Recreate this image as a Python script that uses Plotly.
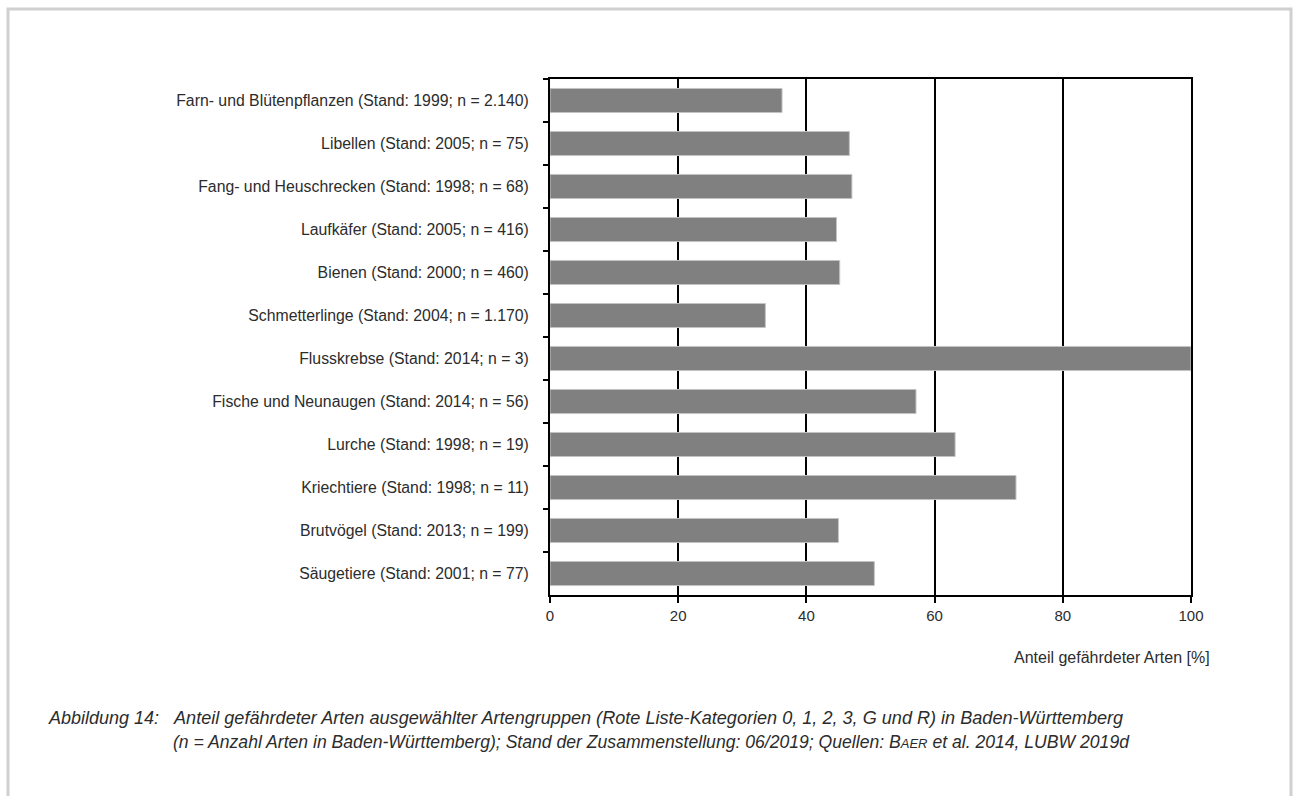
import plotly.graph_objects as go

categories = [
    "Farn- und Blütenpflanzen (Stand: 1999; n = 2.140)",
    "Libellen (Stand: 2005; n = 75)",
    "Fang- und Heuschrecken (Stand: 1998; n = 68)",
    "Laufkäfer (Stand: 2005; n = 416)",
    "Bienen (Stand: 2000; n = 460)",
    "Schmetterlinge (Stand: 2004; n = 1.170)",
    "Flusskrebse (Stand: 2014; n = 3)",
    "Fische und Neunaugen (Stand: 2014; n = 56)",
    "Lurche (Stand: 1998; n = 19)",
    "Kriechtiere (Stand: 1998; n = 11)",
    "Brutvögel (Stand: 2013; n = 199)",
    "Säugetiere (Stand: 2001; n = 77)",
]
values = [36.2, 46.7, 47.1, 44.7, 45.2, 33.6, 100.0, 57.1, 63.2, 72.7, 45.0, 50.6]
x_ticks = [0, 20, 40, 60, 80, 100]

x_title = "Anteil gefährdeter Arten [%]"
caption_label = "Abbildung 14:"
caption_line1 = ("Anteil gefährdeter Arten ausgewählter Artengruppen (Rote Liste-Kategorien 0, 1, 2, 3, G und R) "
                 "in Baden-Württemberg")
caption_line2 = ("(n = Anzahl Arten in Baden-Württemberg); Stand der Zusammenstellung: 06/2019; Quellen: "
                 "B<span style='font-size:13px'>AER</span> et al. 2014, LUBW 2019d")

FONT = "Liberation Sans, Arial, sans-serif"
TXT = "#2c2c2c"

fig = go.Figure(go.Bar(
    x=values, y=categories, orientation="h",
    marker=dict(color="#808080", line=dict(color="#c4c4c4", width=1)),
    hoverinfo="x+y",
))

W, H = 1293, 796
L, R, T, B = 550, 1191, 79, 595

fig.update_layout(
    width=W, height=H,
    margin=dict(l=L, r=W - R, t=T, b=H - B, autoexpand=False),
    paper_bgcolor="white", plot_bgcolor="white",
    bargap=0.44,
    showlegend=False,
    font=dict(family=FONT, size=15, color=TXT),
    xaxis=dict(
        range=[0, 100], tickvals=x_ticks, ticks="outside", ticklen=6, tickwidth=2,
        tickcolor="#000", showgrid=True, gridcolor="#000", gridwidth=1.5,
        zeroline=False, showline=True, linecolor="#000", linewidth=2, mirror=True,
        tickfont=dict(size=15, color=TXT), fixedrange=True,
    ),
    yaxis=dict(
        type="category", categoryorder="array", categoryarray=categories,
        autorange="reversed", ticks="outside", ticklen=5, tickwidth=1.5, tickcolor="#000",
        tickson="boundaries", showgrid=False, zeroline=False, showline=True,
        linecolor="#000", linewidth=2, mirror=True, ticklabelstandoff=16,
        tickfont=dict(size=15.8, color=TXT), fixedrange=True,
    ),
)

pw, ph = R - L, B - T

def px(x):
    return (x - L) / pw

def py(y):
    return (B - y) / ph

fig.add_annotation(text=x_title, xref="paper", yref="paper", x=px(1212), y=py(657),
                   xanchor="right", yanchor="middle", showarrow=False,
                   font=dict(size=16, color=TXT))
fig.add_annotation(text="<i>" + caption_label + "</i>", xref="paper", yref="paper",
                   x=px(46), y=py(718), xanchor="left", yanchor="middle", showarrow=False,
                   font=dict(size=18, color=TXT))
fig.add_annotation(text="<i>" + caption_line1 + "</i>", xref="paper", yref="paper",
                   x=px(171), y=py(718), xanchor="left", yanchor="middle", showarrow=False,
                   font=dict(size=18.1, color=TXT))
fig.add_annotation(text="<i>" + caption_line2 + "</i>", xref="paper", yref="paper",
                   x=px(171), y=py(742), xanchor="left", yanchor="middle", showarrow=False,
                   font=dict(size=17.6, color=TXT))

# light page frame
fig.add_shape(type="path", xref="paper", yref="paper",
              path=f"M {px(8)},{py(900)} L {px(8)},{py(9)} L {px(1291)},{py(9)} L {px(1291)},{py(900)}",
              line=dict(color="#d0d0d0", width=3))

fig.write_html("out.html", config={"displayModeBar": False},
               post_script="document.body.style.margin='0px';document.body.style.overflow='hidden';")
